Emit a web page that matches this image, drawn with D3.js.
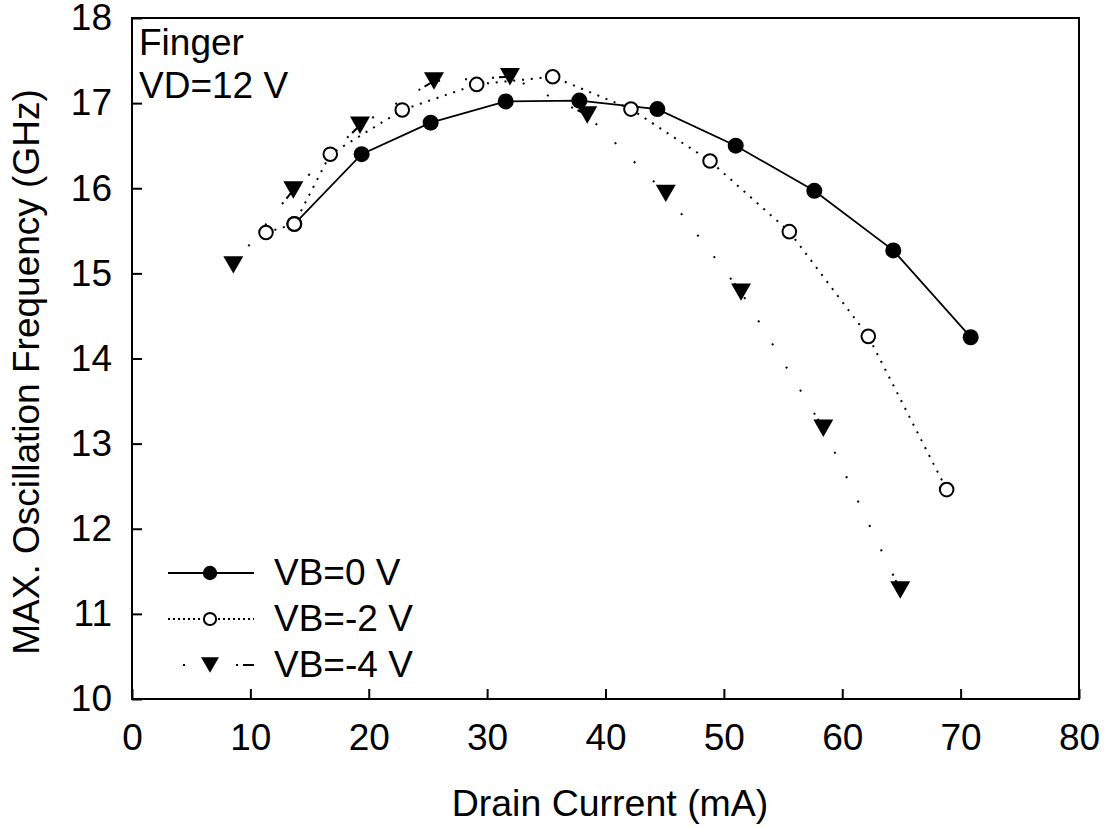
<!DOCTYPE html>
<html>
<head>
<meta charset="utf-8">
<script src="https://cdn.jsdelivr.net/npm/d3@7"></script>
<style>
  html, body { margin: 0; padding: 0; background: #fff; }
  svg text { font-family: "Liberation Sans", Arial, sans-serif; fill: #000; }
</style>
</head>
<body>
<svg id="chart" width="1108" height="827"></svg>
<script>
// Drain current (mA) and max. oscillation frequency (GHz) per back-gate bias
const currentVB0 = [13.71, 19.40, 25.23, 31.57, 37.79, 44.38, 51.00, 57.64, 64.31, 70.85];
const fmaxVB0    = [15.58, 16.40, 16.77, 17.02, 17.03, 16.93, 16.50, 15.97, 15.27, 14.25];

const currentVB2 = [11.32, 13.71, 16.75, 22.83, 29.12, 35.54, 42.15, 48.83, 55.53, 62.20, 68.82];
const fmaxVB2    = [15.48, 15.58, 16.40, 16.92, 17.22, 17.31, 16.93, 16.32, 15.49, 14.26, 12.46];

const currentVB4 = [8.56, 13.63, 19.26, 25.51, 31.93, 38.46, 45.09, 51.45, 58.40, 64.90];
const fmaxVB4    = [15.10, 15.98, 16.74, 17.26, 17.31, 16.86, 15.94, 14.78, 13.18, 11.28];

const seriesNames = ["VB=0 V", "VB=-2 V", "VB=-4 V"];
const xTicks = [0, 10, 20, 30, 40, 50, 60, 70, 80];
const yTicks = [10, 11, 12, 13, 14, 15, 16, 17, 18];
const annotation = ["Finger", "VD=12 V"];

const svg = d3.select("#chart");
const margin = { left: 132, top: 18, right: 1079, bottom: 699 };
const FONT = 37;

const x = d3.scaleLinear().domain([0, 80]).range([margin.left, margin.right]);
const y = d3.scaleLinear().domain([10, 18]).range([margin.bottom, margin.top]);

const zip = (xs, ys) => xs.map((v, i) => [v, ys[i]]);
const series = [
  { name: seriesNames[0], pts: zip(currentVB0, fmaxVB0), marker: "filled", line: "solid" },
  { name: seriesNames[1], pts: zip(currentVB2, fmaxVB2), marker: "open", line: "dotted" },
  { name: seriesNames[2], pts: zip(currentVB4, fmaxVB4), marker: "triangle", line: "dashdot" }
];

const plot = svg.append("g");

// connecting lines
const lineGen = d3.line().x(d => x(d[0])).y(d => y(d[1]));
series.forEach(s => {
  if (s.line === "solid") {
    plot.append("path").attr("d", lineGen(s.pts))
      .attr("fill", "none").attr("stroke", "#000").attr("stroke-width", 1.8);
  } else if (s.line === "dotted") {
    plot.append("path").attr("d", lineGen(s.pts))
      .attr("fill", "none").attr("stroke", "#000").attr("stroke-width", 2)
      .attr("stroke-dasharray", "2,6.8");
  } else {
    // dash-dot pattern restarted on each segment, anchored at the later point
    const pattern = ["11,5"].concat(d3.range(10).map(() => "2,25")).join(",") + ",2,400";
    for (let i = 0; i < s.pts.length - 1; i++) {
      plot.append("path").attr("d", lineGen([s.pts[i + 1], s.pts[i]]))
        .attr("fill", "none").attr("stroke", "#000").attr("stroke-width", 2)
        .attr("stroke-dasharray", pattern);
    }
  }
});

// marker drawing helpers
function drawMarker(g, kind, cx, cy, scale) {
  const k = scale || 1;
  if (kind === "filled") {
    g.append("circle").attr("cx", cx).attr("cy", cy).attr("r", 8 * k).attr("fill", "#000");
  } else if (kind === "open") {
    g.append("circle").attr("cx", cx).attr("cy", cy).attr("r", 6.8 * k)
      .attr("fill", "#fff").attr("stroke", "#000").attr("stroke-width", 2);
  } else {
    const w = 10 * k, h = 8.7 * k;
    g.append("path")
      .attr("d", `M${cx - w},${cy - h}L${cx + w},${cy - h}L${cx},${cy + h}Z`)
      .attr("fill", "#000");
  }
}

series.forEach(s => {
  const g = plot.append("g");
  s.pts.forEach(d => drawMarker(g, s.marker, x(d[0]), y(d[1])));
});

// frame
svg.append("rect")
  .attr("x", margin.left).attr("y", margin.top)
  .attr("width", margin.right - margin.left).attr("height", margin.bottom - margin.top)
  .attr("fill", "none").attr("stroke", "#000").attr("stroke-width", 2);

// bottom axis, ticks pointing inward
const xAxis = svg.append("g").attr("transform", `translate(0,${margin.bottom})`)
  .call(d3.axisBottom(x).tickValues(xTicks).tickSize(-10).tickPadding(25).tickFormat(d3.format("d")));
xAxis.select(".domain").remove();
xAxis.selectAll(".tick line").attr("stroke", "#000").attr("stroke-width", 2);
xAxis.selectAll(".tick text").attr("font-size", FONT).style("font-family", "Liberation Sans, Arial, sans-serif");

// left axis, ticks pointing inward
const yAxis = svg.append("g").attr("transform", `translate(${margin.left},0)`)
  .call(d3.axisLeft(y).tickValues(yTicks).tickSize(-10).tickPadding(20).tickFormat(d3.format("d")));
yAxis.select(".domain").remove();
yAxis.selectAll(".tick line").attr("stroke", "#000").attr("stroke-width", 2);
yAxis.selectAll(".tick text").attr("font-size", FONT).style("font-family", "Liberation Sans, Arial, sans-serif");

// axis titles
svg.append("text")
  .attr("x", 610).attr("y", 816)
  .attr("text-anchor", "middle").attr("font-size", 37.5)
  .text("Drain Current (mA)");

svg.append("text")
  .attr("transform", `translate(39,372) rotate(-90)`)
  .attr("text-anchor", "middle").attr("font-size", FONT)
  .text("MAX. Oscillation Frequency (GHz)");

// annotation in the upper-left corner
annotation.forEach((t, i) => {
  svg.append("text").attr("x", 139).attr("y", 55 + i * 43)
    .attr("font-size", FONT).text(t);
});

// legend
const legend = svg.append("g");
const legendRows = [573, 619, 665];
series.forEach((s, i) => {
  const ly = legendRows[i];
  if (s.line === "solid") {
    legend.append("line").attr("x1", 168).attr("x2", 254).attr("y1", ly).attr("y2", ly)
      .attr("stroke", "#000").attr("stroke-width", 1.8);
  } else if (s.line === "dotted") {
    legend.append("line").attr("x1", 168).attr("x2", 254).attr("y1", ly).attr("y2", ly)
      .attr("stroke", "#000").attr("stroke-width", 2).attr("stroke-dasharray", "2,3");
  } else {
    legend.append("line").attr("x1", 254).attr("x2", 168).attr("y1", ly).attr("y2", ly)
      .attr("stroke", "#000").attr("stroke-width", 2).attr("stroke-dasharray", "11,5,2,24.5,2,24.5,2,100");
  }
  drawMarker(legend, s.marker, 210, ly, 0.9);
  legend.append("text").attr("x", 274).attr("y", ly + 12)
    .attr("font-size", FONT).text(s.name);
});
</script>
</body>
</html>
